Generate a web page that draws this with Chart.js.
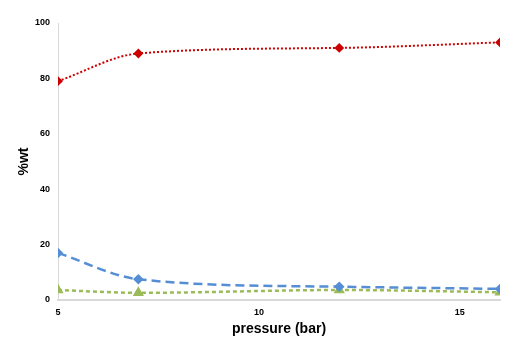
<!DOCTYPE html>
<html lang="en">
<head>
  <meta charset="UTF-8">
  <title>%wt vs pressure</title>
  <script src="https://cdn.jsdelivr.net/npm/chart.js"></script>
  <style>
    html, body {
      margin: 0;
      padding: 0;
      background: #ffffff;
    }
    #wrap {
      width: 531px;
      height: 352px;
    }
  </style>
</head>
<body>
  <div id="wrap">
    <canvas id="wtChart" width="531" height="352"></canvas>
  </div>

  <script>
    // Data
    const pressure = [5, 7, 12, 16];
    const seriesRed = [79, 89, 91, 93];
    const seriesBlue = [17, 7.5, 4.8, 4];
    const seriesGreen = [3.6, 2.6, 3.6, 2.8];
    const xTicks = [5, 10, 15];
    const yTicks = [0, 20, 40, 60, 80, 100];

    function toPoints(values) {
      return pressure.map((p, i) => ({ x: p, y: values[i] }));
    }

    const tickFont = { family: "'Liberation Sans', Arial, sans-serif", size: 9, weight: "bold" };
    const titleFont = { family: "'Liberation Sans', Arial, sans-serif", size: 14, weight: "bold" };

    const ctx = document.getElementById("wtChart").getContext("2d");
    new Chart(ctx, {
      type: "line",
      data: {
        datasets: [
          {
            data: toPoints(seriesRed),
            borderColor: "#cc0000",
            backgroundColor: "#cc0000",
            borderWidth: 2,
            borderDash: [2, 2],
            pointStyle: "rectRot",
            pointRadius: 3.5,
            cubicInterpolationMode: "monotone",
          },
          {
            data: toPoints(seriesBlue),
            borderColor: "#558ed5",
            backgroundColor: "#558ed5",
            borderWidth: 2.5,
            borderDash: [9, 5],
            pointStyle: "rectRot",
            pointRadius: 3.5,
            cubicInterpolationMode: "monotone",
          },
          {
            data: toPoints(seriesGreen),
            borderColor: "#9bbb59",
            backgroundColor: "#9bbb59",
            borderWidth: 2.5,
            borderDash: [4, 3],
            pointStyle: "triangle",
            pointRadius: 4,
            cubicInterpolationMode: "monotone",
          },
        ],
      },
      options: {
        responsive: false,
        animation: false,
        layout: {
          padding: { left: 8, right: 31, top: 23, bottom: 0 }
        },
        plugins: {
          legend: { display: false },
          tooltip: { enabled: false }
        },
        scales: {
          x: {
            type: "linear",
            min: 5,
            max: 16,
            afterBuildTicks: (axis) => {
              axis.ticks = xTicks.map(v => ({ value: v }));
            },
            afterFit: (axis) => { axis.height = 52; },
            grid: { display: false, drawTicks: false },
            border: { color: "#d9d9d9", width: 2 },
            ticks: { color: "#000000", font: tickFont, padding: 7 },
            title: {
              display: true,
              text: "pressure (bar)",
              color: "#000000",
              font: titleFont,
              padding: { top: 0, bottom: 14 }
            }
          },
          y: {
            min: 0,
            max: 100,
            afterBuildTicks: (axis) => {
              axis.ticks = yTicks.map(v => ({ value: v }));
            },
            afterFit: (axis) => { axis.width = 50; },
            grid: { display: false, drawTicks: false },
            border: { color: "#d9d9d9", width: 1 },
            ticks: { color: "#000000", font: tickFont, padding: 8 },
            title: {
              display: true,
              text: "%wt",
              color: "#000000",
              font: titleFont,
              padding: { top: 8, bottom: 0 }
            }
          }
        }
      }
    });
  </script>
</body>
</html>
